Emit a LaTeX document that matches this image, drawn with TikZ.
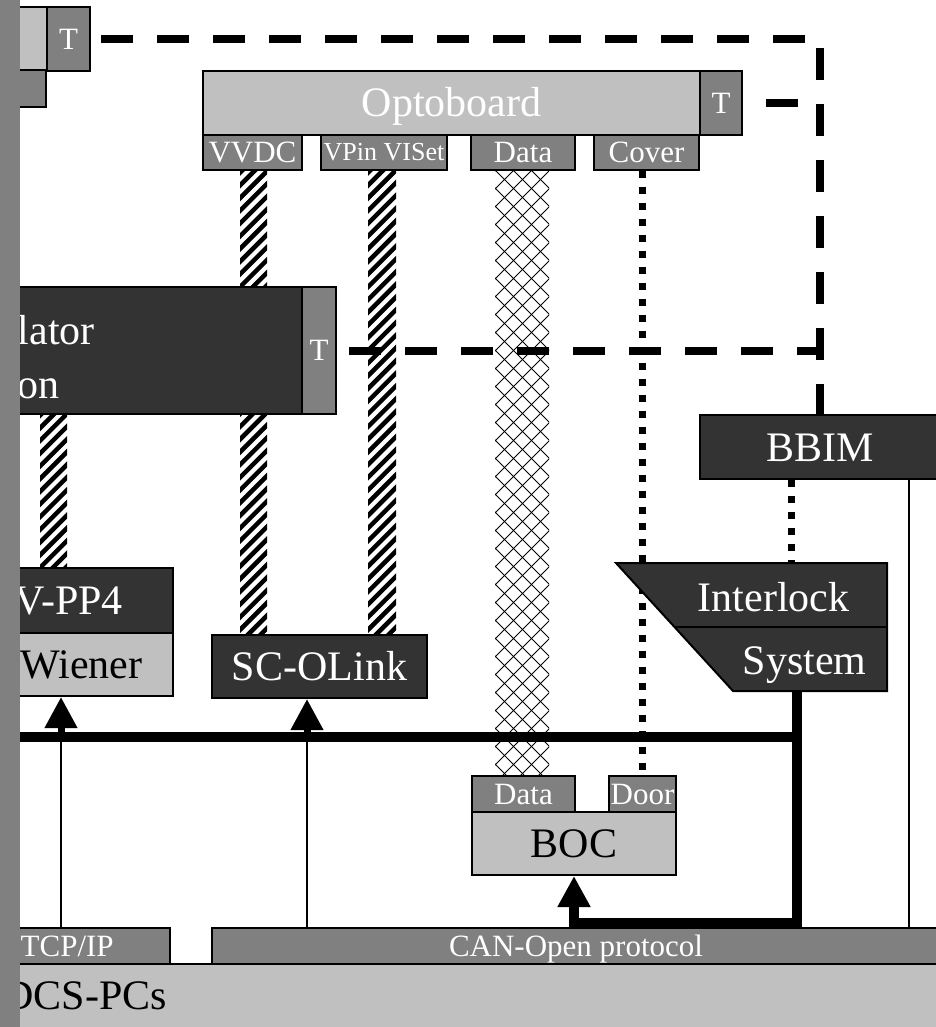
\documentclass[tikz,border=0pt]{standalone}
\usepackage{fontspec}
\setmainfont{Liberation Serif}
\usetikzlibrary{arrows.meta}
\definecolor{lgrey}{HTML}{C0C0C0}
\definecolor{mgrey}{HTML}{808080}
\definecolor{dgrey}{HTML}{333333}
\tikzset{
  box/.style={draw=black, line width=2pt, inner sep=0pt, anchor=center},
  lg/.style={box, fill=lgrey},
  mg/.style={box, fill=mgrey, text=white},
  dk/.style={box, fill=dgrey, text=white},
  big/.style={font=\fontsize{42}{50}\selectfont, text height=28pt, text depth=0pt},
  sm/.style={font=\fontsize{31}{37}\selectfont, text height=20.5pt, text depth=0pt},
  xs/.style={font=\fontsize{26}{31}\selectfont, text height=17pt, text depth=0pt},
  lbl/.style={inner sep=0pt},
  dashline/.style={line width=8pt, dash pattern=on 32pt off 24pt},
  dotline/.style={line width=7pt, dash pattern=on 7pt off 9pt},
  thickline/.style={line width=10pt},
  thinline/.style={line width=1.5pt},
  stemarrow/.style={line width=7pt, -{Triangle[length=31pt,width=31pt]}},
  bigarrow/.style={line width=10pt, -{Triangle[length=31pt,width=31pt]}},
  hatch/.style={line width=4.5pt},
  xhatch/.style={line width=1pt}
}
\begin{document}
\begin{tikzpicture}[x=1pt,y=-1pt]
\useasboundingbox (0,0) rectangle (936,1027);
\fill[white] (0,0) rectangle (936,1027);

% ---- cables (hatched)
\begin{scope}
  \clip (240,170) rectangle (267,635);
  \foreach \y in {170,182.7,...,700} \draw[hatch] (230,\y) -- (280,\y-50);
\end{scope}
\begin{scope}
  \clip (368,170) rectangle (396,635);
  \foreach \y in {170,182.7,...,700} \draw[hatch] (358,\y) -- (408,\y-50);
\end{scope}
\begin{scope}
  \clip (40,414) rectangle (67,568);
  \foreach \y in {400,412.7,...,640} \draw[hatch] (30,\y) -- (80,\y-50);
\end{scope}
\begin{scope}
  \clip (495,170) rectangle (549,776);
  \foreach \y in {150,168,...,880} {
    \draw[xhatch] (480,\y) -- (565,\y-85);
    \draw[xhatch] (480,\y-85) -- (565,\y);
  }
\end{scope}

% ---- top-left fragments
\node[lg, minimum width=47pt, minimum height=63pt] (topL) at (23.5,38.5) {};
\node[mg, sm, minimum width=43pt, minimum height=64pt] (topT) at (68.5,39) {T};
\node[mg, minimum width=46pt, minimum height=37pt] (topD) at (23,88.5) {};

% ---- Optoboard
\node[lg, big, text=white, minimum width=497pt, minimum height=64pt] (opto) at (451.5,103) {Optoboard};
\node[mg, sm, minimum width=42pt, minimum height=64pt] (optT) at (721,103) {T};
\node[mg, sm, minimum width=99pt, minimum height=35pt] (vvdc) at (252.5,152.5) {VVDC};
\node[mg, xs, minimum width=126pt, minimum height=35pt] (vpin) at (384,152.5) {VPin VISet};
\node[mg, sm, minimum width=104pt, minimum height=35pt] (odat) at (523,152.5) {Data};
\node[mg, sm, minimum width=105pt, minimum height=35pt] (cover) at (646.5,152.5) {Cover};

% ---- Regulator station
\node[dk, minimum width=302pt, minimum height=127pt] (reg) at (151,350.5) {};
\node[mg, sm, minimum width=34pt, minimum height=127pt] (regT) at (319,350.5) {T};
\node[lbl, big, text=white, anchor=east] (regA) at (95,330) {lator};
\node[lbl, big, text=white, anchor=east] (regB) at (60,384) {on};

% ---- BBIM
\node[dk, big, minimum width=240pt, minimum height=64pt] (bbim) at (820,447) {BBIM};

% ---- LV-PP4 / Wiener
\node[dk, minimum width=173pt, minimum height=65pt] (vpp) at (86.5,600.5) {};
\node[lbl, big, text=white, anchor=east] (vppT) at (123,600.5) {V-PP4};
\node[lg, minimum width=173pt, minimum height=63pt] (wiener) at (86.5,664.5) {};
\node[lbl, big, anchor=west] (wienT) at (20.5,664.5) {Wiener};

% ---- SC-OLink
\node[dk, big, minimum width=215pt, minimum height=63pt] (sco) at (319.5,666.5) {SC-OLink};

% ---- BOC
\node[mg, sm, minimum width=103pt, minimum height=36pt] (bocD) at (523.5,794) {Data};
\node[mg, sm, minimum width=67pt, minimum height=36pt] (door) at (642.5,794) {Door};
\node[lg, big, minimum width=204pt, minimum height=63pt] (boc) at (574,843.5) {BOC};

% ---- bottom
\node[mg, minimum width=170pt, minimum height=36pt] (tcp) at (85,946) {};
\node[lbl, sm, text=white, anchor=west] (tcpT) at (20.5,946) {TCP/IP};
\node[mg, sm, minimum width=728pt, minimum height=36pt] (can) at (576,946) {CAN-Open protocol};
\node[lg, minimum width=940pt, minimum height=66pt] (dcs) at (470,997) {};
\node[lbl, big, anchor=east] (dcsT) at (167,995) {DCS-PCs};

% ---- coordinates
\coordinate (ilTop) at (791,563);
\coordinate (ilBot) at (797,691);
\coordinate (busL) at (0,737);
\coordinate (turn) at (797,923);
\coordinate (xW) at (61,0);
\coordinate (xS) at (307,0);
\coordinate (xB) at (909,0);

% ---- dotted lines
\draw[dotline] (cover.south -| door.north) -- (door.north);
\draw[dotline] (bbim.south -| ilTop) -- (ilTop);

% ---- Interlock system
\draw[line width=2pt, fill=dgrey] (616,563) -- (887,563) -- (887,691) -- (733,691) -- cycle;
\draw[line width=2pt] (674.5,627) -- (887,627);
\node[lbl, big, text=white] (ilA) at (773.5,597) {Interlock};
\node[lbl, big, text=white] (ilB) at (804.5,660) {System};

% ---- dashed lines
\draw[dashline, dash phase=46pt] (topT.east) -| (bbim.north);
\draw[dashline, dash phase=33pt] (optT.east) -- (optT.east -| bbim.north);
\draw[dashline, dash phase=44pt] (regT.east) -- (regT.east -| bbim.north);

% ---- buses and arrows
\draw[thickline] (busL) -- (busL -| ilBot);
\draw[bigarrow] (ilBot) -- (turn) -| (boc.south);
\draw[thinline] (tcp.north -| xW) -- (busL -| xW);
\draw[stemarrow] (busL -| xW) -- (wiener.south -| xW);
\draw[thinline] (can.north -| xS) -- (busL -| xS);
\draw[stemarrow] (busL -| xS) -- (sco.south -| xS);
\draw[thinline] (bbim.south -| xB) -- (can.north -| xB);

% ---- left grey bar
\fill[mgrey] (0,0) rectangle (20,1027);
\end{tikzpicture}
\end{document}
